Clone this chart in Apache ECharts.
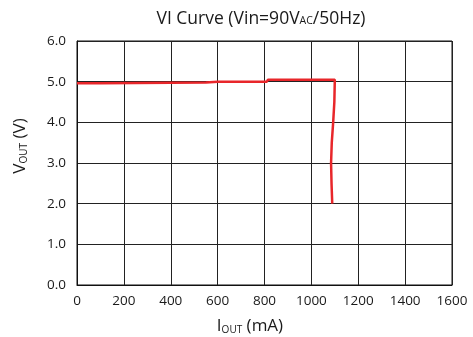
<!DOCTYPE html>
<html><head><meta charset="utf-8">
<script src="https://cdn.jsdelivr.net/npm/echarts@6/dist/echarts.min.js"></script>
<style>html,body{margin:0;padding:0;background:#fff}#c{width:473px;height:337px}</style>
</head><body><div id="c"></div>
<script>
const xTicks = [0, 200, 400, 600, 800, 1000, 1200, 1400, 1600];
const yTicks = [0, 1, 2, 3, 4, 5, 6];
const currentMA = [0, 100, 100, 550, 600, 810, 815, 1100, 1098, 1093, 1087, 1084, 1086, 1089];
const voltageV = [4.96, 4.96, 4.98, 4.98, 5.0, 5.0, 5.05, 5.05, 4.5, 4.0, 3.5, 3.0, 2.5, 2.0];

const FONT = 'Open Sans';
const C = '#1a1a1a';
const chart = echarts.init(document.getElementById('c'), null, {renderer: 'canvas'});
chart.setOption({
  animation: false,
  backgroundColor: '#fff',
  graphic: [
    {
      type: 'text', x: 261, y: 19,
      style: {
        text: '{a|VI Curve (Vin=90V}{s|AC}{a|/50Hz)}', align: 'center', verticalAlign: 'middle',
        rich: {
          a: {fontFamily: FONT, fontSize: 17.5, fill: C, color: C},
          s: {fontFamily: FONT, fontSize: 10.5, fill: C, color: C, padding: [5, 0, 0, 0]}
        }
      }
    },
    {
      type: 'text', x: 250, y: 326,
      style: {
        text: '{a|I}{s|OUT}{a| (mA)}', align: 'center', verticalAlign: 'middle',
        rich: {
          a: {fontFamily: FONT, fontSize: 17, fill: C, color: C},
          s: {fontFamily: FONT, fontSize: 10, fill: C, color: C, padding: [9, 0, 0, 0]}
        }
      }
    },
    {
      type: 'text', x: 20, y: 146, rotation: Math.PI / 2,
      style: {
        text: '{a|V}{s|OUT}{a| (V)}', align: 'center', verticalAlign: 'middle',
        rich: {
          a: {fontFamily: FONT, fontSize: 17, fill: C, color: C},
          s: {fontFamily: FONT, fontSize: 10, fill: C, color: C, padding: [9, 0, 0, 0]}
        }
      }
    }
  ],
  grid: {left: 77, right: 21, top: 41, bottom: 52, show: true, borderColor: '#111', borderWidth: 1},
  xAxis: {
    type: 'value', min: xTicks[0], max: xTicks[xTicks.length - 1], interval: 200,
    axisLine: {show: true, lineStyle: {color: '#111', width: 1}},
    axisTick: {show: false},
    splitLine: {show: true, lineStyle: {color: '#222', width: 1}},
    axisLabel: {fontFamily: FONT, fontSize: 13.5, color: C, margin: 9, formatter: v => String(v)}
  },
  yAxis: {
    type: 'value', min: yTicks[0], max: yTicks[yTicks.length - 1], interval: 1,
    axisLine: {show: true, lineStyle: {color: '#111', width: 1}},
    axisTick: {show: false},
    splitLine: {show: true, lineStyle: {color: '#222', width: 1}},
    axisLabel: {fontFamily: FONT, fontSize: 13.5, color: C, margin: 11, formatter: v => v.toFixed(1)}
  },
  series: [{
    type: 'line',
    data: currentMA.map((x, i) => [x, voltageV[i]]),
    showSymbol: false,
    smooth: false,
    lineStyle: {color: '#e8262a', width: 2.5},
    clip: true
  }]
});
</script></body></html>
